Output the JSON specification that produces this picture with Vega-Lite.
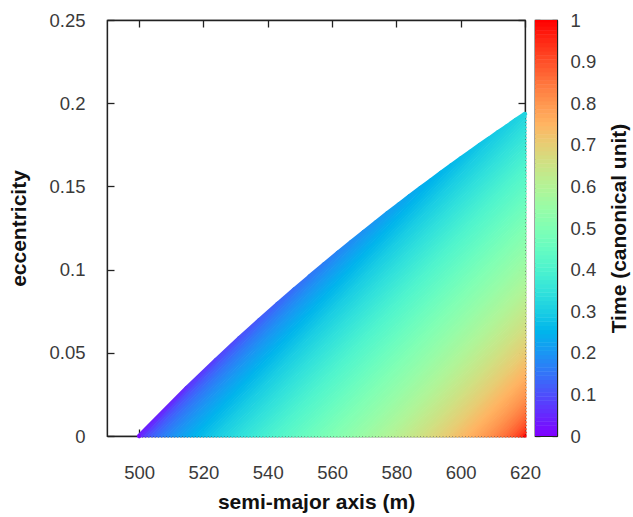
{
  "$schema": "https://vega.github.io/schema/vega-lite/v6.json",
  "padding": {"left": 8, "top": 10, "right": 0, "bottom": 5},
  "background": "white",
  "bounds": "flush",
  "spacing": 10,
  "config": {
    "font": "Liberation Sans",
    "view": {"stroke": "#222", "strokeWidth": 1.2},
    "axis": {
      "labelFont": "Liberation Sans", "labelFontSize": 18.5, "labelColor": "#3a3a3a", "labelFlush": false,
      "titleFont": "Liberation Sans", "titleFontSize": 21, "titleFontWeight": "bold", "titleColor": "#111",
      "grid": false, "domainColor": "#222", "domainWidth": 1.3, "tickColor": "#222", "tickWidth": 1.3, "zindex": 1
    }
  },
  "resolve": {"scale": {"color": "shared"}},
  "hconcat": [
    {
      "width": 418,
      "height": 416,
      "data": {"values": [
        {"a_start":500,"a_end":500,"e_end":0,"time":0},
        {"a_start":501,"a_end":514.8,"e_end":0.0288,"time":0.0582},
        {"a_start":502,"a_end":523.9,"e_end":0.0456,"time":0.0824},
        {"a_start":503,"a_end":531.2,"e_end":0.0588,"time":0.1011},
        {"a_start":504,"a_end":537.4,"e_end":0.0696,"time":0.1169},
        {"a_start":505,"a_end":543.1,"e_end":0.0794,"time":0.1309},
        {"a_start":506,"a_end":548.2,"e_end":0.0879,"time":0.1436},
        {"a_start":507,"a_end":553.0,"e_end":0.0958,"time":0.1553},
        {"a_start":508,"a_end":557.5,"e_end":0.1031,"time":0.1663},
        {"a_start":509,"a_end":561.8,"e_end":0.1100,"time":0.1766},
        {"a_start":510,"a_end":565.9,"e_end":0.1165,"time":0.1864},
        {"a_start":511,"a_end":569.8,"e_end":0.1225,"time":0.1958},
        {"a_start":512,"a_end":573.6,"e_end":0.1283,"time":0.2048},
        {"a_start":513,"a_end":577.2,"e_end":0.1338,"time":0.2135},
        {"a_start":514,"a_end":580.7,"e_end":0.1390,"time":0.2219},
        {"a_start":515,"a_end":584.1,"e_end":0.1440,"time":0.2301},
        {"a_start":516,"a_end":587.5,"e_end":0.1490,"time":0.2379},
        {"a_start":517,"a_end":590.7,"e_end":0.1535,"time":0.2457},
        {"a_start":518,"a_end":593.9,"e_end":0.1581,"time":0.2532},
        {"a_start":519,"a_end":597.0,"e_end":0.1625,"time":0.2605},
        {"a_start":520,"a_end":600.0,"e_end":0.1667,"time":0.2677},
        {"a_start":521,"a_end":603.0,"e_end":0.1708,"time":0.2748},
        {"a_start":522,"a_end":605.9,"e_end":0.1748,"time":0.2817},
        {"a_start":523,"a_end":608.7,"e_end":0.1785,"time":0.2885},
        {"a_start":524,"a_end":611.6,"e_end":0.1825,"time":0.2952},
        {"a_start":525,"a_end":614.3,"e_end":0.1860,"time":0.3017},
        {"a_start":526,"a_end":617.1,"e_end":0.1898,"time":0.3082},
        {"a_start":527,"a_end":619.7,"e_end":0.1931,"time":0.3146},
        {"a_start":528,"a_end":620,"e_end":0.1917,"time":0.3209},
        {"a_start":529,"a_end":620,"e_end":0.1896,"time":0.3272},
        {"a_start":530,"a_end":620,"e_end":0.1875,"time":0.3333},
        {"a_start":531,"a_end":620,"e_end":0.1854,"time":0.3394},
        {"a_start":532,"a_end":620,"e_end":0.1833,"time":0.3455},
        {"a_start":533,"a_end":620,"e_end":0.1813,"time":0.3514},
        {"a_start":534,"a_end":620,"e_end":0.1792,"time":0.3573},
        {"a_start":535,"a_end":620,"e_end":0.1771,"time":0.3632},
        {"a_start":536,"a_end":620,"e_end":0.1750,"time":0.3690},
        {"a_start":537,"a_end":620,"e_end":0.1729,"time":0.3748},
        {"a_start":538,"a_end":620,"e_end":0.1708,"time":0.3805},
        {"a_start":539,"a_end":620,"e_end":0.1688,"time":0.3862},
        {"a_start":540,"a_end":620,"e_end":0.1667,"time":0.3918},
        {"a_start":541,"a_end":620,"e_end":0.1646,"time":0.3974},
        {"a_start":542,"a_end":620,"e_end":0.1625,"time":0.4030},
        {"a_start":543,"a_end":620,"e_end":0.1604,"time":0.4086},
        {"a_start":544,"a_end":620,"e_end":0.1583,"time":0.4141},
        {"a_start":545,"a_end":620,"e_end":0.1563,"time":0.4196},
        {"a_start":546,"a_end":620,"e_end":0.1542,"time":0.4250},
        {"a_start":547,"a_end":620,"e_end":0.1521,"time":0.4305},
        {"a_start":548,"a_end":620,"e_end":0.1500,"time":0.4359},
        {"a_start":549,"a_end":620,"e_end":0.1479,"time":0.4413},
        {"a_start":550,"a_end":620,"e_end":0.1458,"time":0.4467},
        {"a_start":551,"a_end":620,"e_end":0.1438,"time":0.4521},
        {"a_start":552,"a_end":620,"e_end":0.1417,"time":0.4574},
        {"a_start":553,"a_end":620,"e_end":0.1396,"time":0.4628},
        {"a_start":554,"a_end":620,"e_end":0.1375,"time":0.4681},
        {"a_start":555,"a_end":620,"e_end":0.1354,"time":0.4734},
        {"a_start":556,"a_end":620,"e_end":0.1333,"time":0.4788},
        {"a_start":557,"a_end":620,"e_end":0.1313,"time":0.4841},
        {"a_start":558,"a_end":620,"e_end":0.1292,"time":0.4894},
        {"a_start":559,"a_end":620,"e_end":0.1271,"time":0.4947},
        {"a_start":560,"a_end":620,"e_end":0.1250,"time":0.5000},
        {"a_start":561,"a_end":620,"e_end":0.1229,"time":0.5053},
        {"a_start":562,"a_end":620,"e_end":0.1208,"time":0.5106},
        {"a_start":563,"a_end":620,"e_end":0.1188,"time":0.5159},
        {"a_start":564,"a_end":620,"e_end":0.1167,"time":0.5212},
        {"a_start":565,"a_end":620,"e_end":0.1146,"time":0.5266},
        {"a_start":566,"a_end":620,"e_end":0.1125,"time":0.5319},
        {"a_start":567,"a_end":620,"e_end":0.1104,"time":0.5372},
        {"a_start":568,"a_end":620,"e_end":0.1083,"time":0.5426},
        {"a_start":569,"a_end":620,"e_end":0.1063,"time":0.5479},
        {"a_start":570,"a_end":620,"e_end":0.1042,"time":0.5533},
        {"a_start":571,"a_end":620,"e_end":0.1021,"time":0.5587},
        {"a_start":572,"a_end":620,"e_end":0.1000,"time":0.5641},
        {"a_start":573,"a_end":620,"e_end":0.0979,"time":0.5695},
        {"a_start":574,"a_end":620,"e_end":0.0958,"time":0.5750},
        {"a_start":575,"a_end":620,"e_end":0.0938,"time":0.5804},
        {"a_start":576,"a_end":620,"e_end":0.0917,"time":0.5859},
        {"a_start":577,"a_end":620,"e_end":0.0896,"time":0.5914},
        {"a_start":578,"a_end":620,"e_end":0.0875,"time":0.5970},
        {"a_start":579,"a_end":620,"e_end":0.0854,"time":0.6026},
        {"a_start":580,"a_end":620,"e_end":0.0833,"time":0.6082},
        {"a_start":581,"a_end":620,"e_end":0.0813,"time":0.6138},
        {"a_start":582,"a_end":620,"e_end":0.0792,"time":0.6195},
        {"a_start":583,"a_end":620,"e_end":0.0771,"time":0.6252},
        {"a_start":584,"a_end":620,"e_end":0.0750,"time":0.6310},
        {"a_start":585,"a_end":620,"e_end":0.0729,"time":0.6368},
        {"a_start":586,"a_end":620,"e_end":0.0708,"time":0.6427},
        {"a_start":587,"a_end":620,"e_end":0.0688,"time":0.6486},
        {"a_start":588,"a_end":620,"e_end":0.0667,"time":0.6545},
        {"a_start":589,"a_end":620,"e_end":0.0646,"time":0.6606},
        {"a_start":590,"a_end":620,"e_end":0.0625,"time":0.6667},
        {"a_start":591,"a_end":620,"e_end":0.0604,"time":0.6728},
        {"a_start":592,"a_end":620,"e_end":0.0583,"time":0.6791},
        {"a_start":593,"a_end":620,"e_end":0.0563,"time":0.6854},
        {"a_start":594,"a_end":620,"e_end":0.0542,"time":0.6918},
        {"a_start":595,"a_end":620,"e_end":0.0521,"time":0.6983},
        {"a_start":596,"a_end":620,"e_end":0.0500,"time":0.7048},
        {"a_start":597,"a_end":620,"e_end":0.0479,"time":0.7115},
        {"a_start":598,"a_end":620,"e_end":0.0458,"time":0.7183},
        {"a_start":599,"a_end":620,"e_end":0.0438,"time":0.7252},
        {"a_start":600,"a_end":620,"e_end":0.0417,"time":0.7323},
        {"a_start":601,"a_end":620,"e_end":0.0396,"time":0.7395},
        {"a_start":602,"a_end":620,"e_end":0.0375,"time":0.7468},
        {"a_start":603,"a_end":620,"e_end":0.0354,"time":0.7543},
        {"a_start":604,"a_end":620,"e_end":0.0333,"time":0.7621},
        {"a_start":605,"a_end":620,"e_end":0.0313,"time":0.7699},
        {"a_start":606,"a_end":620,"e_end":0.0292,"time":0.7781},
        {"a_start":607,"a_end":620,"e_end":0.0271,"time":0.7865},
        {"a_start":608,"a_end":620,"e_end":0.0250,"time":0.7952},
        {"a_start":609,"a_end":620,"e_end":0.0229,"time":0.8042},
        {"a_start":610,"a_end":620,"e_end":0.0208,"time":0.8136},
        {"a_start":611,"a_end":620,"e_end":0.0188,"time":0.8234},
        {"a_start":612,"a_end":620,"e_end":0.0167,"time":0.8337},
        {"a_start":613,"a_end":620,"e_end":0.0146,"time":0.8447},
        {"a_start":614,"a_end":620,"e_end":0.0125,"time":0.8564},
        {"a_start":615,"a_end":620,"e_end":0.0104,"time":0.8691},
        {"a_start":616,"a_end":620,"e_end":0.0083,"time":0.8831},
        {"a_start":617,"a_end":620,"e_end":0.0063,"time":0.8989},
        {"a_start":618,"a_end":620,"e_end":0.0042,"time":0.9176},
        {"a_start":619,"a_end":620,"e_end":0.0021,"time":0.9418},
        {"a_start":620,"a_end":620,"e_end":0,"time":1}
      ]},
      "layer": [
        {
          "data": {"values": [
            {"a_from":500,"e_from":0,"a_to":514.8,"e_to":0.0288,"time":0.041},
            {"a_from":514.8,"e_from":0.0288,"a_to":523.9,"e_to":0.0456,"time":0.070},
            {"a_from":523.9,"e_from":0.0456,"a_to":531.2,"e_to":0.0588,"time":0.092},
            {"a_from":531.2,"e_from":0.0588,"a_to":537.4,"e_to":0.0696,"time":0.109},
            {"a_from":537.4,"e_from":0.0696,"a_to":543.1,"e_to":0.0794,"time":0.124},
            {"a_from":543.1,"e_from":0.0794,"a_to":548.2,"e_to":0.0879,"time":0.137},
            {"a_from":548.2,"e_from":0.0879,"a_to":553.0,"e_to":0.0958,"time":0.149},
            {"a_from":553.0,"e_from":0.0958,"a_to":557.5,"e_to":0.1031,"time":0.161},
            {"a_from":557.5,"e_from":0.1031,"a_to":561.8,"e_to":0.1100,"time":0.171},
            {"a_from":561.8,"e_from":0.1100,"a_to":565.9,"e_to":0.1165,"time":0.182},
            {"a_from":565.9,"e_from":0.1165,"a_to":569.8,"e_to":0.1225,"time":0.191},
            {"a_from":569.8,"e_from":0.1225,"a_to":573.6,"e_to":0.1283,"time":0.200},
            {"a_from":573.6,"e_from":0.1283,"a_to":577.2,"e_to":0.1338,"time":0.209},
            {"a_from":577.2,"e_from":0.1338,"a_to":580.7,"e_to":0.1390,"time":0.218},
            {"a_from":580.7,"e_from":0.1390,"a_to":584.1,"e_to":0.1440,"time":0.226},
            {"a_from":584.1,"e_from":0.1440,"a_to":587.5,"e_to":0.1490,"time":0.234},
            {"a_from":587.5,"e_from":0.1490,"a_to":590.7,"e_to":0.1535,"time":0.242},
            {"a_from":590.7,"e_from":0.1535,"a_to":593.9,"e_to":0.1581,"time":0.249},
            {"a_from":593.9,"e_from":0.1581,"a_to":597.0,"e_to":0.1625,"time":0.257},
            {"a_from":597.0,"e_from":0.1625,"a_to":600.0,"e_to":0.1667,"time":0.264},
            {"a_from":600.0,"e_from":0.1667,"a_to":603.0,"e_to":0.1708,"time":0.271},
            {"a_from":603.0,"e_from":0.1708,"a_to":605.9,"e_to":0.1748,"time":0.278},
            {"a_from":605.9,"e_from":0.1748,"a_to":608.7,"e_to":0.1785,"time":0.285},
            {"a_from":608.7,"e_from":0.1785,"a_to":611.6,"e_to":0.1825,"time":0.292},
            {"a_from":611.6,"e_from":0.1825,"a_to":614.3,"e_to":0.1860,"time":0.298},
            {"a_from":614.3,"e_from":0.1860,"a_to":617.1,"e_to":0.1898,"time":0.305},
            {"a_from":617.1,"e_from":0.1898,"a_to":619.7,"e_to":0.1931,"time":0.311},
            {"a_from":619.7,"e_from":0.1931,"a_to":620,"e_to":0.1935,"time":0.317}
          ]},
          "mark": {"type": "rule", "strokeWidth": 4.5, "strokeCap": "round"},
          "encoding": {
            "x": {"field": "a_from", "type": "quantitative", "axis": null},
            "x2": {"field": "a_to"},
            "y": {"field": "e_from", "type": "quantitative", "axis": null},
            "y2": {"field": "e_to"},
            "color": {"field": "time", "type": "quantitative", "legend": null}
          }
        },
        {
          "mark": {"type": "rule", "strokeWidth": 3, "strokeCap": "square"},
          "encoding": {
            "x": {"field": "a_end", "type": "quantitative",
                  "scale": {"domain": [490, 620], "nice": false, "zero": false},
                  "axis": {"orient": "bottom", "values": [500, 520, 540, 560, 580, 600, 620], "tickSize": -7, "labelPadding": 34, "title": "semi-major axis (m)", "titlePadding": 10}},
            "x2": {"field": "a_start"},
            "y": {"field": "e_end", "type": "quantitative",
                  "scale": {"domain": [0, 0.25], "nice": false, "zero": false},
                  "axis": {"orient": "left", "values": [0, 0.05, 0.1, 0.15, 0.2, 0.25], "format": "~g", "tickSize": -7, "labelPadding": 29, "title": "eccentricity", "titlePadding": 19}},
            "y2": {"datum": 0},
            "color": {"field": "time", "type": "quantitative",
                      "scale": {"domain": [0,0.05,0.1,0.15,0.2,0.25,0.3,0.35,0.4,0.45,0.5,0.55,0.6,0.65,0.7,0.75,0.8,0.85,0.9,0.95,1],
                                "range": ["#8000ff","#6628fe","#4d4ffc","#3374f8","#1a96f3","#00b4ec","#1acee3","#33e3da","#4df3ce","#66fcc2","#80ffb4","#99fca6","#b3f396","#cce385","#e6ce74","#ffb462","#ff964f","#ff743c","#ff4f28","#ff2814","#ff0000"],
                                "interpolate": "rgb"},
                      "legend": null}
          }
        },
        {
          "mark": {"type": "point", "opacity": 0},
          "encoding": {
            "x": {"field": "a_end", "type": "quantitative",
                  "axis": {"orient": "top", "values": [500, 520, 540, 560, 580, 600, 620], "tickSize": -7, "labels": false, "title": null}},
            "y": {"field": "e_end", "type": "quantitative",
                  "axis": {"orient": "right", "values": [0, 0.05, 0.1, 0.15, 0.2, 0.25], "tickSize": -7, "labels": false, "title": null}}
          }
        }
      ],
      "resolve": {"axis": {"x": "independent", "y": "independent"}}
    },
    {
      "width": 22,
      "height": 416,
      "data": {"values": [
        {"level":0},{"level":0.01},{"level":0.02},{"level":0.03},{"level":0.04},{"level":0.05},{"level":0.06},{"level":0.07},{"level":0.08},{"level":0.09},
        {"level":0.1},{"level":0.11},{"level":0.12},{"level":0.13},{"level":0.14},{"level":0.15},{"level":0.16},{"level":0.17},{"level":0.18},{"level":0.19},
        {"level":0.2},{"level":0.21},{"level":0.22},{"level":0.23},{"level":0.24},{"level":0.25},{"level":0.26},{"level":0.27},{"level":0.28},{"level":0.29},
        {"level":0.3},{"level":0.31},{"level":0.32},{"level":0.33},{"level":0.34},{"level":0.35},{"level":0.36},{"level":0.37},{"level":0.38},{"level":0.39},
        {"level":0.4},{"level":0.41},{"level":0.42},{"level":0.43},{"level":0.44},{"level":0.45},{"level":0.46},{"level":0.47},{"level":0.48},{"level":0.49},
        {"level":0.5},{"level":0.51},{"level":0.52},{"level":0.53},{"level":0.54},{"level":0.55},{"level":0.56},{"level":0.57},{"level":0.58},{"level":0.59},
        {"level":0.6},{"level":0.61},{"level":0.62},{"level":0.63},{"level":0.64},{"level":0.65},{"level":0.66},{"level":0.67},{"level":0.68},{"level":0.69},
        {"level":0.7},{"level":0.71},{"level":0.72},{"level":0.73},{"level":0.74},{"level":0.75},{"level":0.76},{"level":0.77},{"level":0.78},{"level":0.79},
        {"level":0.8},{"level":0.81},{"level":0.82},{"level":0.83},{"level":0.84},{"level":0.85},{"level":0.86},{"level":0.87},{"level":0.88},{"level":0.89},
        {"level":0.9},{"level":0.91},{"level":0.92},{"level":0.93},{"level":0.94},{"level":0.95},{"level":0.96},{"level":0.97},{"level":0.98},{"level":0.99},
        {"level":1}
      ]},
      "layer": [
        {
          "mark": {"type": "rule", "strokeWidth": 4.6, "clip": true},
          "encoding": {
            "x": {"datum": 0, "type": "quantitative", "scale": {"domain": [0, 1], "nice": false}, "axis": null},
            "x2": {"datum": 1},
            "y": {"field": "level", "type": "quantitative",
                  "scale": {"domain": [0, 1], "nice": false},
                  "axis": {"orient": "right", "values": [0,0.1,0.2,0.3,0.4,0.5,0.6,0.7,0.8,0.9,1], "format": "~g", "tickSize": -5, "labelPadding": 18, "title": "Time (canonical unit)", "titleAngle": 270, "titlePadding": 34}},
            "color": {"field": "level", "type": "quantitative",
                      "scale": {"domain": [0,0.05,0.1,0.15,0.2,0.25,0.3,0.35,0.4,0.45,0.5,0.55,0.6,0.65,0.7,0.75,0.8,0.85,0.9,0.95,1],
                                "range": ["#8000ff","#6628fe","#4d4ffc","#3374f8","#1a96f3","#00b4ec","#1acee3","#33e3da","#4df3ce","#66fcc2","#80ffb4","#99fca6","#b3f396","#cce385","#e6ce74","#ffb462","#ff964f","#ff743c","#ff4f28","#ff2814","#ff0000"],
                                "interpolate": "rgb"},
                      "legend": null}
          }
        },
        {
          "mark": {"type": "point", "opacity": 0},
          "encoding": {
            "x": {"datum": 0.5, "type": "quantitative"},
            "y": {"field": "level", "type": "quantitative",
                  "axis": {"orient": "left", "values": [0,0.1,0.2,0.3,0.4,0.5,0.6,0.7,0.8,0.9,1], "tickSize": -5, "labels": false, "title": null}}
          }
        }
      ],
      "resolve": {"axis": {"y": "independent"}}
    }
  ]
}
